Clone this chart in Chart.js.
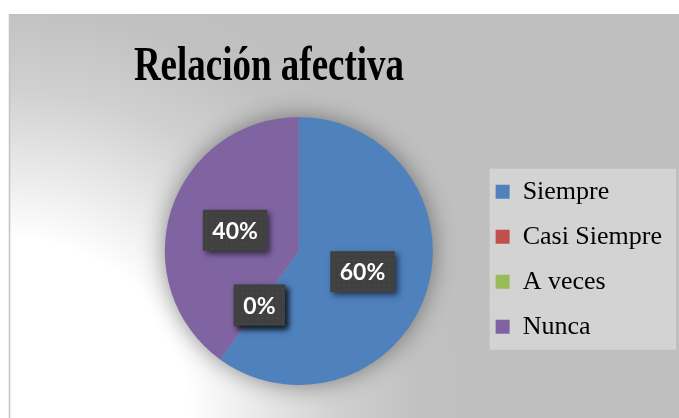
<!DOCTYPE html>
<html><head><meta charset="utf-8">
<script src="https://cdn.jsdelivr.net/npm/chart.js@4"></script>
<style>html,body{margin:0;padding:0;background:#fff;overflow:hidden}#wrap{width:679px;height:418px}</style>
</head><body><div id="wrap"><canvas id="c" width="679" height="418"></canvas></div>
<script>
const TITLE = 'Relación afectiva';
const categories = ['Siempre', 'Casi Siempre', 'A veces', 'Nunca'];
const values = [60, 0, 0, 40];
const percentLabels = ['60%', '0%', '0%', '40%'];
const colors = ['#4F81BD', '#C0504D', '#9BBB59', '#8064A2'];

const bgPlugin = {
  id: 'bg',
  beforeDraw(chart) {
    const ctx = chart.ctx;
    ctx.save();
    const g = ctx.createRadialGradient(10, 418, 0, 10, 418, 470);
    g.addColorStop(0, '#ffffff');
    g.addColorStop(0.38, '#ffffff');
    g.addColorStop(0.55, '#e6e6e6');
    g.addColorStop(0.7, '#d0d0d0');
    g.addColorStop(0.87, '#c1c1c1');
    g.addColorStop(1, '#bfbfbf');
    ctx.fillStyle = g;
    ctx.fillRect(9, 14, 679 - 9, 418 - 14);
    ctx.strokeStyle = '#c4c4c4';
    ctx.lineWidth = 1.5;
    ctx.beginPath();
    ctx.moveTo(9.5, 14); ctx.lineTo(9.5, 418);
    ctx.stroke();
    // legend background
    const lg = chart.legend;
    if (lg && lg.legendHitBoxes && lg.legendHitBoxes.length) {
      const hb = lg.legendHitBoxes;
      const x0 = hb[0].left - 6;
      const y0 = hb[0].top - 10;
      const last = hb[hb.length - 1];
      const y1 = last.top + last.height + 10;
      ctx.fillStyle = '#d3d3d3';
      ctx.fillRect(x0, y0, 676 - x0, y1 - y0);
    }
    ctx.restore();
  },
  beforeDatasetsDraw(chart) {
    const meta = chart.getDatasetMeta(0);
    const arc = meta.data[0];
    if (!arc) return;
    const ctx = chart.ctx;
    ctx.save();
    ctx.shadowColor = 'rgba(0,0,0,0.45)';
    ctx.shadowBlur = 24;
    ctx.fillStyle = '#a0a0a0';
    ctx.beginPath();
    ctx.arc(arc.x, arc.y, arc.outerRadius - 1, 0, Math.PI * 2);
    ctx.fill();
    ctx.restore();
  },
  afterDatasetsDraw(chart) {
    const meta = chart.getDatasetMeta(0);
    const ctx = chart.ctx;
    ctx.save();
    ctx.font = 'bold 23px Lato';
    ctx.textAlign = 'center';
    ctx.textBaseline = 'middle';
    meta.data.forEach((el, i) => {
      const p = el.tooltipPosition();
      const txt = percentLabels[i];
      const w = ctx.measureText(txt).width + 19;
      const h = 41;
      ctx.save();
      ctx.shadowColor = 'rgba(0,0,0,0.6)';
      ctx.shadowBlur = 6;
      ctx.shadowOffsetX = 3;
      ctx.shadowOffsetY = 3;
      ctx.fillStyle = '#404040';
      ctx.fillRect(p.x - w / 2, p.y - h / 2, w, h);
      ctx.restore();
      // subtle dotted texture
      ctx.fillStyle = 'rgba(255,255,255,0.06)';
      for (let yy = p.y - h / 2 + 3; yy < p.y + h / 2 - 1; yy += 5) {
        for (let xx = p.x - w / 2 + 3; xx < p.x + w / 2 - 1; xx += 5) {
          ctx.fillRect(xx, yy, 1.5, 1.5);
        }
      }
      ctx.fillStyle = '#ffffff';
      ctx.fillText(txt, p.x, p.y + 1);
    });
    ctx.restore();
  },
  afterDraw(chart) {
    const ctx = chart.ctx;
    ctx.save();
    ctx.font = 'bold 37px "Liberation Serif"';
    ctx.fillStyle = '#000000';
    ctx.textAlign = 'center';
    ctx.textBaseline = 'alphabetic';
    ctx.translate(269, 80);
    ctx.scale(1, 1.34);
    ctx.fillText(TITLE, 0, 0);
    ctx.restore();
  }
};

new Chart(document.getElementById('c'), {
  type: 'pie',
  data: {
    labels: categories,
    datasets: [{
      data: values,
      backgroundColor: colors,
      borderWidth: 0
    }]
  },
  options: {
    responsive: false,
    animation: false,
    devicePixelRatio: 1,
    layout: { padding: { left: 121, right: 7, top: 117, bottom: 33 } },
    plugins: {
      title: { display: false, text: TITLE },
      tooltip: { enabled: false },
      legend: {
        position: 'right',
        align: 'center',
        title: { display: true, text: '', font: { size: 12 }, padding: { top: 1, bottom: 1 } },
        labels: {
          boxWidth: 14,
          boxHeight: 14,
          padding: 19,
          color: '#000000',
          font: { family: '"Liberation Serif"', size: 26 }
        }
      }
    }
  },
  plugins: [bgPlugin]
});
</script>
</body></html>
